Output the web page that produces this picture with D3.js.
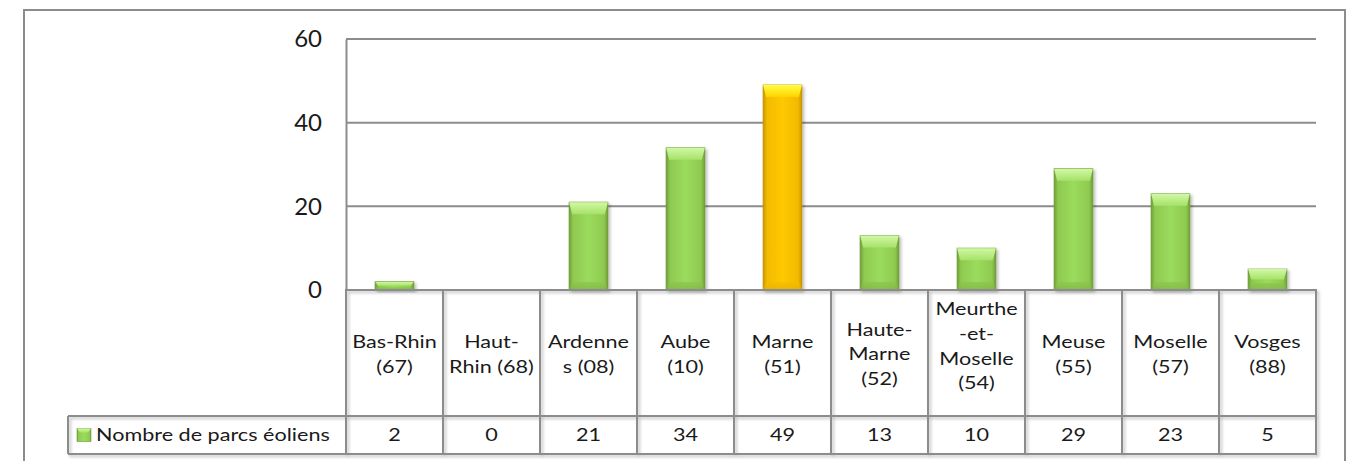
<!DOCTYPE html>
<html>
<head>
<meta charset="utf-8">
<script src="https://cdn.jsdelivr.net/npm/d3@7"></script>
<style>
  html, body { margin: 0; padding: 0; background: #fff; }
  svg { display: block; font-family: Lato, "Open Sans", sans-serif; }
</style>
</head>
<body>
<svg id="chart" width="1348" height="461"></svg>
<script>
// Wind farms per département
const categories = ["Bas-Rhin (67)", "Haut-Rhin (68)", "Ardennes (08)", "Aube (10)", "Marne (51)",
                    "Haute-Marne (52)", "Meurthe-et-Moselle (54)", "Meuse (55)", "Moselle (57)", "Vosges (88)"];
const categoryLines = [
  ["Bas-Rhin", "(67)"], ["Haut-", "Rhin (68)"], ["Ardenne", "s (08)"], ["Aube", "(10)"], ["Marne", "(51)"],
  ["Haute-", "Marne", "(52)"], ["Meurthe", "-et-", "Moselle", "(54)"], ["Meuse", "(55)"], ["Moselle", "(57)"], ["Vosges", "(88)"]
];
const values = [2, 0, 21, 34, 49, 13, 10, 29, 23, 5];
const highlighted = ["Marne (51)"];
const seriesName = "Nombre de parcs éoliens";
const yTicks = [0, 20, 40, 60];

const svg = d3.select("#chart");
const plot = { left: 346, right: 1316, top: 39, bottom: 290 };
const table = { legendLeft: 68, catBottom: 416, dataBottom: 454 };
const gridColor = "#8c8c8c";
const textColor = "#1a1a1a";
const stretch = 1.2;   // wide table lettering

const x = d3.scaleBand().domain(categories).range([plot.left, plot.right]).padding(0);
const y = d3.scaleLinear().domain([0, 60]).range([plot.bottom, plot.top]);
const barW = x.bandwidth() * 0.4;

// Defs: gradients and shadow
const defs = svg.append("defs");
function hGrad(id, stops) {
  const g = defs.append("linearGradient").attr("id", id).attr("x1", 0).attr("x2", 1).attr("y1", 0).attr("y2", 0);
  stops.forEach(s => g.append("stop").attr("offset", s[0]).attr("stop-color", s[1]));
}
function vGrad(id, stops) {
  const g = defs.append("linearGradient").attr("id", id).attr("x1", 0).attr("x2", 0).attr("y1", 0).attr("y2", 1);
  stops.forEach(s => g.append("stop").attr("offset", s[0]).attr("stop-color", s[1]));
}
const palette = {
  green: { body: [[0, "#6f9c36"], [0.1, "#8fca50"], [0.5, "#9adb5c"], [0.9, "#8fca50"], [1, "#6f9c36"]],
           top: [[0, "#d2f8a6"], [1, "#a6e268"]], bottom: [[0, "#8cc550"], [1, "#7fb446"]], edge: "#6e9a3a" },
  gold:  { body: [[0, "#c99400"], [0.1, "#f2bb00"], [0.5, "#ffc800"], [0.9, "#f2bb00"], [1, "#c99400"]],
           top: [[0, "#ffff40"], [1, "#ffd400"]], bottom: [[0, "#f5bd00"], [1, "#e8b000"]], edge: "#c49200" }
};
Object.entries(palette).forEach(([k, p]) => {
  hGrad("body-" + k, p.body);
  vGrad("top-" + k, p.top);
  vGrad("bot-" + k, p.bottom);
});
const shadow = defs.append("filter").attr("id", "shadow").attr("x", "-20%").attr("y", "-20%").attr("width", "150%").attr("height", "150%");
shadow.append("feDropShadow").attr("dx", 2).attr("dy", 2).attr("stdDeviation", 1.5)
  .attr("flood-color", "#000").attr("flood-opacity", 0.25);

// Outer frame
svg.append("rect").attr("x", 24).attr("y", 10).attr("width", 1321).attr("height", 470)
  .attr("fill", "none").attr("stroke", gridColor).attr("stroke-width", 2);

// Gridlines
svg.append("g").selectAll("line").data(yTicks.filter(t => t > 0)).join("line")
  .attr("x1", plot.left).attr("x2", plot.right)
  .attr("y1", d => y(d)).attr("y2", d => y(d))
  .attr("stroke", gridColor).attr("stroke-width", 2);

// Y axis
const yAxis = svg.append("g").attr("transform", `translate(${plot.left},0)`)
  .call(d3.axisLeft(y).tickValues(yTicks).tickSize(0).tickPadding(24));
yAxis.select(".domain").attr("stroke", gridColor).attr("stroke-width", 2);
yAxis.selectAll("text").attr("font-size", 24).attr("fill", textColor)
  .attr("font-family", "Lato, 'Open Sans', sans-serif");

// Bars with bevel
const bars = svg.append("g").selectAll("g").data(categories).join("g")
  .attr("filter", "url(#shadow)");
bars.each(function (c, i) {
  const v = values[i];
  if (v <= 0) return;
  const g = d3.select(this);
  const key = highlighted.includes(c) ? "gold" : "green";
  const x0 = x(c) + (x.bandwidth() - barW) / 2, x1 = x0 + barW;
  const y0 = y(v), y1 = y(0);
  const h = y1 - y0;
  const bev = Math.min(12, h / 2);
  const side = 3;
  g.append("rect").attr("x", x0).attr("y", y0).attr("width", barW).attr("height", h)
    .attr("fill", `url(#body-${key})`).attr("stroke", palette[key].edge).attr("stroke-width", 0.8);
  g.append("polygon")
    .attr("points", [[x0, y0], [x1, y0], [x1 - side, y0 + bev], [x0 + side, y0 + bev]].map(p => p.join(",")).join(" "))
    .attr("fill", `url(#top-${key})`);
  const bb = Math.min(8, h / 3);
  g.append("polygon")
    .attr("points", [[x0 + side, y1 - bb], [x1 - side, y1 - bb], [x1, y1], [x0, y1]].map(p => p.join(",")).join(" "))
    .attr("fill", `url(#bot-${key})`).attr("opacity", 0.7);
});

// Data table
const tg = svg.append("g");
const tableLines = tg.append("g").attr("filter", "url(#shadow)");
[plot.bottom, table.catBottom, table.dataBottom].forEach((yy, k) => {
  tableLines.append("line")
    .attr("x1", k === 0 ? plot.left - 1 : table.legendLeft).attr("x2", plot.right + 1)
    .attr("y1", yy).attr("y2", yy)
    .attr("stroke", gridColor).attr("stroke-width", 2);
});
const bounds = categories.map(c => x(c)).concat([plot.right]);
tableLines.selectAll("line.v").data(bounds).join("line").attr("class", "v")
  .attr("x1", d => d).attr("x2", d => d)
  .attr("y1", plot.bottom).attr("y2", table.dataBottom)
  .attr("stroke", gridColor).attr("stroke-width", 2);
tableLines.append("line")
  .attr("x1", table.legendLeft).attr("x2", table.legendLeft)
  .attr("y1", table.catBottom).attr("y2", table.dataBottom)
  .attr("stroke", gridColor).attr("stroke-width", 2);

function wideText(sel, cx, cy, anchor) {
  return sel.attr("transform", `translate(${cx},${cy}) scale(${stretch},1)`)
    .attr("text-anchor", anchor).attr("dy", "0.35em")
    .attr("font-size", 18).attr("fill", textColor);
}

// category labels
const lh = 24.8;
categories.forEach((c, i) => {
  const lines = categoryLines[i];
  let first = 354 - (lines.length - 1) * lh / 2;
  const last = first + (lines.length - 1) * lh;
  if (last > 383) first -= last - 383;
  lines.forEach((t, k) => {
    wideText(tg.append("text"), x(c) + x.bandwidth() / 2, first + k * lh, "middle").text(t);
  });
});

// values row
const rowMid = (table.catBottom + table.dataBottom) / 2;
categories.forEach((c, i) => {
  wideText(tg.append("text"), x(c) + x.bandwidth() / 2, rowMid, "middle").text(values[i]);
});

// legend key and series name
const key = tg.append("g").attr("transform", `translate(77,${rowMid - 6.5})`);
key.append("rect").attr("width", 14).attr("height", 13).attr("fill", "url(#body-green)").attr("stroke", "#6e9a3a").attr("stroke-width", 0.6);
key.append("polygon").attr("points", "0,0 14,0 11,4 3,4").attr("fill", "url(#top-green)");
wideText(tg.append("text"), 96, rowMid, "start").text(seriesName);
</script>
</body>
</html>
